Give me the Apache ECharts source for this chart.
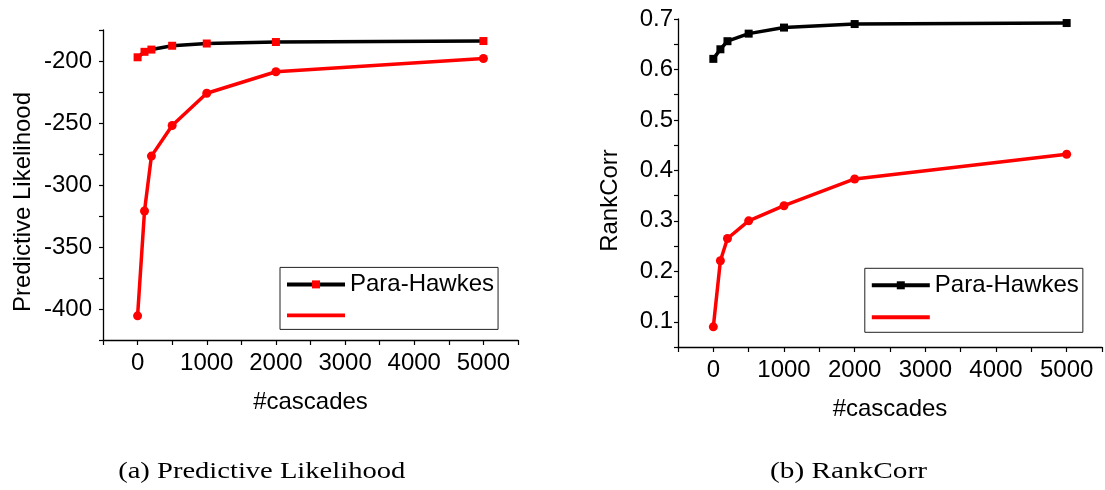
<!DOCTYPE html>
<html>
<head>
<meta charset="utf-8">
<script src="https://cdn.jsdelivr.net/npm/echarts@6/dist/echarts.min.js"></script>
<style>
html,body{margin:0;padding:0;background:#fff;}
#chart{width:1105px;height:490px;}
</style>
</head>
<body>
<div id="chart"></div>
<script>
// ---- data ----
const cascades = [0, 100, 200, 500, 1000, 2000, 5000];
const likParaHawkes = [-197, -192.6, -190.8, -187.7, -185.9, -184.7, -183.9];
const likOther = [-405.5, -321, -276.7, -252, -226, -208.7, -198];
const rcParaHawkes = [0.621, 0.640, 0.656, 0.671, 0.683, 0.690, 0.692];
const rcOther = [0.090, 0.221, 0.265, 0.300, 0.330, 0.383, 0.432];
const seriesNames = ['Para-Hawkes', ' '];
const xTickLabels = [0, 1000, 2000, 3000, 4000, 5000];
const likTickLabels = [-400, -350, -300, -250, -200];
const rcTickLabels = [0.1, 0.2, 0.3, 0.4, 0.5, 0.6, 0.7];
const captions = ['(a) Predictive Likelihood', '(b) RankCorr'];

const FONT = "'Liberation Sans', Arial, sans-serif";
const pairs = (xs, ys) => xs.map((x, i) => [x, ys[i]]);

function xAxisCfg(gridIndex) {
  return {
    gridIndex, type: 'value', min: -500, max: 5500, interval: 500,
    name: '#cascades', nameLocation: 'middle', nameGap: 50,
    nameTextStyle: { fontFamily: FONT, fontSize: 24, color: '#000' },
    axisLine: { show: true, onZero: false, lineStyle: { color: '#000', width: 1.3 } },
    axisTick: { show: true, inside: false, length: 5, lineStyle: { color: '#000', width: 1.2 } },
    axisLabel: {
      margin: 11, fontFamily: FONT, fontSize: 24, color: '#000',
      formatter: v => xTickLabels.indexOf(Math.round(v)) >= 0 ? String(Math.round(v)) : ''
    },
    splitLine: { show: false }
  };
}

function yAxisCfg(gridIndex, extra) {
  return Object.assign({
    gridIndex, type: 'value', nameLocation: 'middle',
    axisLine: { show: true, onZero: false, lineStyle: { color: '#000', width: 1.3 } },
    axisTick: { show: true, inside: false, length: 4, lineStyle: { color: '#000', width: 1.2 } },
    splitLine: { show: false }
  }, extra);
}

const option = {
  animation: false,
  backgroundColor: '#fff',
  grid: [
    { left: 103, top: 30, width: 415, height: 310 },
    { left: 678, top: 19, width: 425, height: 328 }
  ],
  xAxis: [xAxisCfg(0), xAxisCfg(1)],
  yAxis: [
    yAxisCfg(0, {
      min: -425, max: -175, interval: 25,
      name: 'Predictive Likelihood', nameGap: 68,
      nameTextStyle: { fontFamily: FONT, fontSize: 24, color: '#000', padding: [0, 34, 0, 0] },
      axisLabel: {
        margin: 11, fontFamily: FONT, fontSize: 24, color: '#000',
        formatter: v => likTickLabels.indexOf(Math.round(v)) >= 0 ? String(Math.round(v)) : ''
      }
    }),
    yAxisCfg(1, {
      min: 0.05, max: 0.7, interval: 0.05,
      name: 'RankCorr', nameGap: 56,
      nameTextStyle: { fontFamily: FONT, fontSize: 24, color: '#000', padding: [0, 35, 0, 0] },
      axisLabel: {
        margin: 5, fontFamily: FONT, fontSize: 24, color: '#000',
        formatter: v => {
          const r = Math.round(v * 100) / 100;
          return rcTickLabels.indexOf(r) >= 0 ? r.toFixed(1) : '';
        }
      }
    })
  ],
  legend: [
    {
      left: 280, top: 267.4, orient: 'vertical', selectedMode: false,
      itemWidth: 58, itemHeight: 10, itemGap: 7,
      padding: [5, 4, 2, 5],
      borderColor: '#222', borderWidth: 1, backgroundColor: '#fff',
      lineStyle: { width: 4 },
      textStyle: { fontFamily: FONT, fontSize: 24, color: '#000' },
      data: [
        { name: seriesNames[0] },
        { name: seriesNames[1], icon: 'path://M0,0L60,0L60,4L0,4Z' }
      ]
    },
    {
      left: 864.8, top: 268.3, orient: 'vertical', selectedMode: false,
      itemWidth: 58, itemHeight: 10, itemGap: 8,
      padding: [5, 4, 3, 5],
      borderColor: '#222', borderWidth: 1, backgroundColor: '#fff',
      lineStyle: { width: 4 },
      textStyle: { fontFamily: FONT, fontSize: 24, color: '#000' },
      data: [
        { name: seriesNames[0], itemStyle: { color: '#000' } },
        { name: seriesNames[1], icon: 'path://M0,0L60,0L60,4L0,4Z' }
      ]
    }
  ],
  series: [
    {
      name: seriesNames[0], type: 'line', xAxisIndex: 0, yAxisIndex: 0,
      data: pairs(cascades, likParaHawkes),
      symbol: 'rect', symbolSize: 8,
      lineStyle: { color: '#000', width: 3.5 },
      itemStyle: { color: '#ff0000' }, z: 3
    },
    {
      name: seriesNames[1], type: 'line', xAxisIndex: 0, yAxisIndex: 0,
      data: pairs(cascades, likOther),
      symbol: 'circle', symbolSize: 9,
      lineStyle: { color: '#ff0000', width: 3.5 },
      itemStyle: { color: '#ff0000' }, z: 2
    },
    {
      name: seriesNames[0], type: 'line', xAxisIndex: 1, yAxisIndex: 1,
      data: pairs(cascades, rcParaHawkes),
      symbol: 'rect', symbolSize: 8,
      lineStyle: { color: '#000', width: 3.5 },
      itemStyle: { color: '#000' }, z: 3
    },
    {
      name: seriesNames[1], type: 'line', xAxisIndex: 1, yAxisIndex: 1,
      data: pairs(cascades, rcOther),
      symbol: 'circle', symbolSize: 9,
      lineStyle: { color: '#ff0000', width: 3.5 },
      itemStyle: { color: '#ff0000' }, z: 2
    }
  ],
  graphic: [
    {
      type: 'text', x: 261.7, y: 472, scaleX: 1.19,
      style: { text: captions[0], font: "24px 'Liberation Serif', 'Times New Roman', serif", fill: '#000', textAlign: 'center', textVerticalAlign: 'middle' }
    },
    {
      type: 'text', x: 848.5, y: 472, scaleX: 1.22,
      style: { text: captions[1], font: "24px 'Liberation Serif', 'Times New Roman', serif", fill: '#000', textAlign: 'center', textVerticalAlign: 'middle' }
    }
  ]
};

const chart = echarts.init(document.getElementById('chart'), null, { renderer: 'canvas' });
chart.setOption(option);
</script>
</body>
</html>
